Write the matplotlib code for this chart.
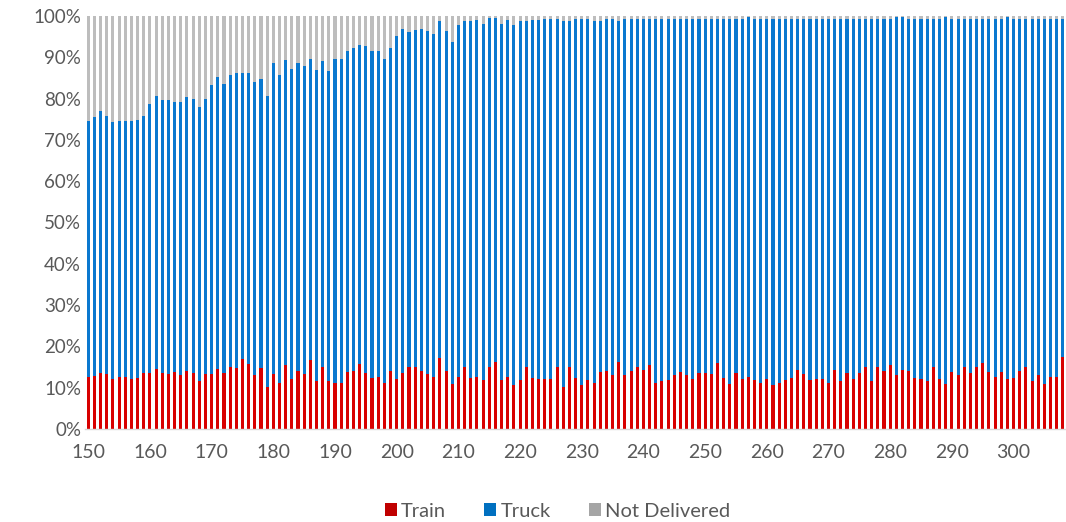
import matplotlib
matplotlib.use("Agg")
import matplotlib.pyplot as plt
from matplotlib.patches import Patch
from matplotlib.ticker import FuncFormatter, MultipleLocator
import numpy as np

# Delivery day index
days = list(range(150, 309))

# Share delivered by train (%)
train = [
    12.7, 12.9, 13.6, 13.4, 12.0, 12.7, 12.7, 12.0, 12.4, 13.6,   # 150-159
    13.6, 14.5, 13.6, 13.3, 13.9, 13.0, 14.1, 13.6, 11.5, 13.3,   # 160-169
    13.3, 14.5, 13.6, 15.1, 14.8, 16.9, 15.7, 13.0, 14.8, 10.2,   # 170-179
    13.3, 11.2, 15.4, 12.1, 14.0, 13.3, 16.7, 11.5, 14.9, 11.5,   # 180-189
    11.2, 11.2, 13.9, 14.1, 15.7, 13.6, 12.4, 12.7, 11.2, 14.1,   # 190-199
    12.1, 13.6, 14.9, 14.9, 14.1, 13.3, 12.7, 17.3, 14.1, 10.9,   # 200-209
    12.7, 14.9, 12.4, 12.7, 11.8, 14.9, 16.3, 11.8, 12.7, 10.6,   # 210-219
    11.8, 15.1, 12.4, 12.1, 12.1, 12.1, 15.1, 10.2, 14.9, 12.4,   # 220-229
    10.6, 11.8, 11.2, 13.9, 14.1, 13.0, 16.3, 13.0, 14.1, 14.9,   # 230-239
    14.4, 15.4, 11.2, 11.5, 11.8, 13.0, 13.9, 13.0, 12.1, 13.6,   # 240-249
    13.6, 13.3, 16.0, 12.4, 10.9, 13.6, 12.1, 12.7, 11.8, 11.2,   # 250-259
    12.1, 10.6, 11.2, 11.8, 12.4, 14.4, 13.3, 11.8, 12.1, 12.1,   # 260-269
    11.2, 14.4, 11.5, 13.6, 12.1, 13.6, 14.9, 11.5, 14.9, 14.1,   # 270-279
    15.4, 13.0, 14.4, 14.1, 12.4, 12.1, 11.5, 14.9, 12.1, 10.9,   # 280-289
    13.9, 13.0, 15.1, 13.6, 14.9, 16.0, 13.9, 12.7, 13.9, 12.1,   # 290-299
    12.4, 14.1, 14.9, 11.5, 13.0, 10.9, 12.7, 12.7, 17.5,         # 300-308
]

# Share not delivered (%)
not_delivered = [
    25.4, 24.5, 23.0, 24.2, 25.7, 25.4, 25.4, 25.4, 25.1, 24.2,   # 150-159
    21.2, 19.4, 20.3, 20.3, 20.9, 20.9, 19.7, 20.0, 22.1, 20.0,   # 160-169
    16.7, 14.8, 16.4, 14.3, 13.9, 13.9, 13.9, 16.1, 15.2, 19.4,   # 170-179
    11.5, 14.3, 10.7, 12.8, 11.5, 12.1, 10.3, 13.1, 10.9, 13.3,   # 180-189
    10.3, 10.3, 8.5, 7.7, 7.0, 7.3, 8.5, 8.5, 10.3, 7.7,          # 190-199
    4.8, 3.1, 4.0, 3.4, 3.1, 3.6, 4.3, 1.3, 3.6, 6.4,             # 200-209
    2.2, 1.3, 1.3, 1.0, 1.9, 0.6, 0.6, 1.9, 1.0, 2.2,             # 210-219
    1.1, 1.1, 1.0, 1.0, 0.8, 0.8, 0.7, 1.1, 1.1, 0.7,             # 220-229
    0.7, 0.8, 1.1, 1.1, 0.7, 0.7, 1.1, 0.7, 0.7, 0.7,             # 230-239
    0.7, 0.7, 0.7, 0.7, 0.7, 0.7, 0.7, 0.7, 0.7, 0.7,             # 240-249
    0.7, 0.7, 0.7, 0.7, 0.7, 0.7, 0.7, 0.3, 0.7, 0.7,             # 250-259
    0.7, 0.7, 0.7, 0.7, 0.7, 0.7, 0.7, 0.7, 0.7, 0.7,             # 260-269
    0.7, 0.7, 0.7, 0.7, 0.7, 0.7, 0.7, 0.7, 0.7, 0.7,             # 270-279
    0.7, 0.3, 0.3, 0.7, 0.7, 0.7, 0.7, 0.7, 0.7, 0.3,             # 280-289
    0.7, 0.7, 0.7, 0.7, 0.7, 0.7, 0.7, 0.7, 0.7, 0.3,             # 290-299
    0.7, 0.7, 0.7, 0.7, 0.7, 0.7, 0.7, 0.7, 0.7,                  # 300-308
]

series_names = ["Train", "Truck", "Not Delivered"]
series_colors = ["#D80000", "#0A78CF", "#BDBDBD"]
legend_colors = ["#C00000", "#0070C0", "#A5A5A5"]

x = np.array(days)
tr = np.array(train)
nd = np.array(not_delivered)
tk = 100.0 - tr - nd  # truck takes the remaining share

plt.rcParams["font.family"] = ["Lato", "DejaVu Sans"]
text_color = "#595959"

fig = plt.figure(figsize=(10.66, 5.22), dpi=100)
ax = fig.add_axes([0.0799, 0.1782, 0.9201, 0.7912])

w = 0.5
ax.bar(x, tr, width=w, color=series_colors[0], linewidth=0)
ax.bar(x, tk, width=w, bottom=tr, color=series_colors[1], linewidth=0)
ax.bar(x, nd, width=w, bottom=tr + tk, color=series_colors[2], linewidth=0)

ax.set_xlim(149.5, 308.5)
ax.set_ylim(0, 100)
ax.yaxis.set_major_locator(MultipleLocator(10))
ax.yaxis.set_major_formatter(FuncFormatter(lambda v, p: f"{v:.0f}%"))
ax.set_xticks(np.arange(150, 301, 10))

for s in ["top", "right", "left"]:
    ax.spines[s].set_visible(False)
ax.spines["bottom"].set_color("#D9D9D9")
ax.spines["bottom"].set_linewidth(1.0)

ax.tick_params(axis="y", length=0, pad=3, labelsize=13.5, labelcolor=text_color)
ax.tick_params(axis="x", length=0, pad=11, labelsize=14, labelcolor=text_color)

handles = [Patch(facecolor=c, edgecolor="none") for c in legend_colors]
fig.legend(handles, series_names, loc="center", bbox_to_anchor=(0.523, 0.021),
           ncol=3, frameon=False, fontsize=14.5, labelcolor=text_color,
           handlelength=0.6, handleheight=0.6, handletextpad=0.2,
           columnspacing=1.9)

fig.savefig("out.png", dpi=100)
